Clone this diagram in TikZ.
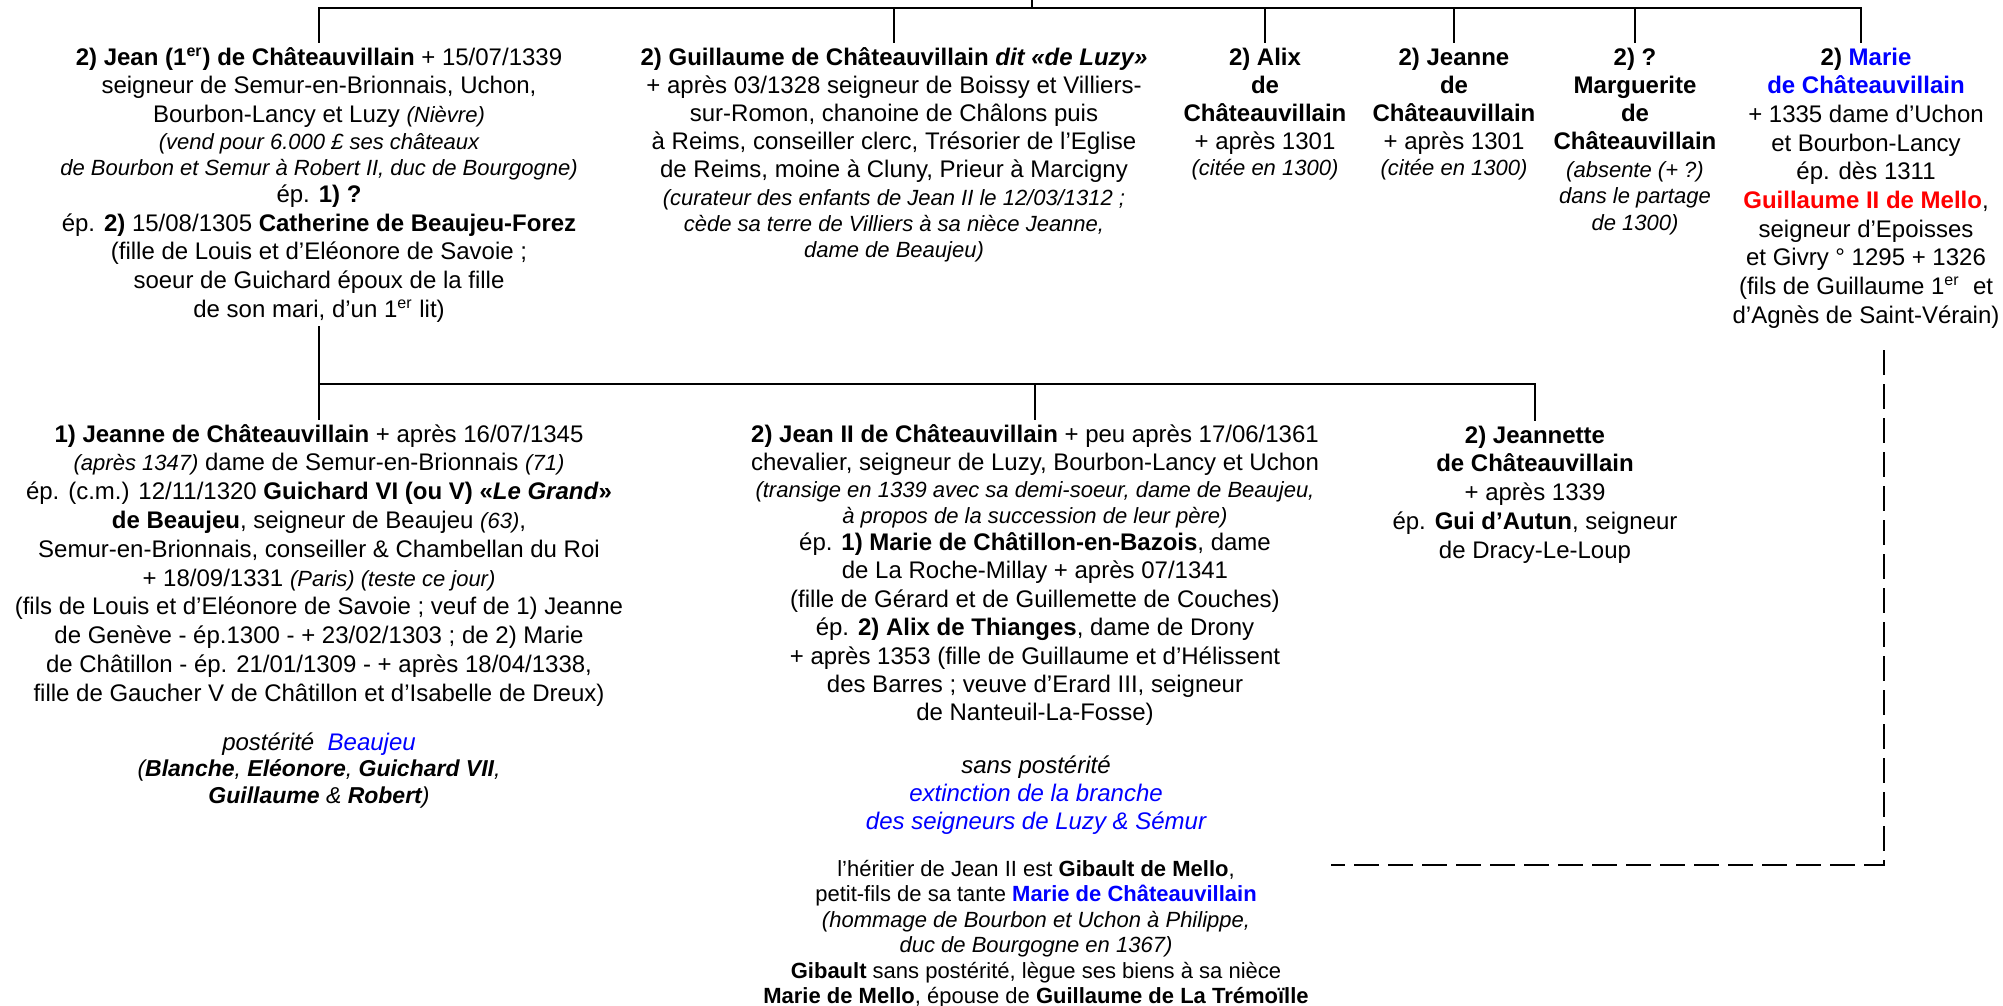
\documentclass[tikz,border=0pt]{standalone}
\usepackage{fontspec}
\setmainfont{Liberation Sans}
\usetikzlibrary{calc}
\definecolor{blu}{RGB}{0,0,255}
\definecolor{rd}{RGB}{255,0,0}
\newcommand\smit[1]{{\fontsize{11}{14}\selectfont\itshape #1}}
\newcommand\fst{\rule{0pt}{11pt}}
\tikzset{
  blk/.style={anchor=north, inner sep=0pt, outer sep=0pt, align=center,
    font=\fontsize{12}{14.2}\selectfont},
  conn/.style={line width=1.3pt},
  dconn/.style={line width=1.3pt, dash pattern=on 12.5pt off 4.5pt},
}
\begin{document}
\begin{tikzpicture}[x=0.5pt,y=-0.5pt]
\useasboundingbox (0,0) rectangle (2003,1006);

% generation 1
\node[blk, font=\fontsize{12}{14.4}\selectfont] (jean) at (319,43) {\fst\textbf{2) Jean (1\textsuperscript{er}) de Châteauvillain} + 15/07/1339\\
seigneur de Semur-en-Brionnais, Uchon,\\
Bourbon-Lancy et Luzy \smit{(Nièvre)}\\[-1pt]
\smit{(vend pour 6.000 £ ses châteaux}\\[-1.4pt]
\smit{de Bourbon et Semur à Robert II, duc de Bourgogne)}\\[-1pt]
ép. \textbf{1) ?}\\
ép. \textbf{2)} 15/08/1305 \textbf{Catherine de Beaujeu-Forez}\\
(fille de Louis et d’Eléonore de Savoie ;\\
soeur de Guichard époux de la fille\\
de son mari, d’un 1\textsuperscript{er} lit)};

\node[blk, font=\fontsize{12}{14}\selectfont] (guil) at (894,43) {\fst\textbf{2) Guillaume de Châteauvillain \textit{dit «de Luzy»}}\\
+ après 03/1328 seigneur de Boissy et Villiers-\\
sur-Romon, chanoine de Châlons puis\\
à Reims, conseiller clerc, Trésorier de l’Eglise\\
de Reims, moine à Cluny, Prieur à Marcigny\\
\smit{(curateur des enfants de Jean II le 12/03/1312 ;}\\[-1pt]
\smit{cède sa terre de Villiers à sa nièce Jeanne,}\\[-1pt]
\smit{dame de Beaujeu)}};

\node[blk, font=\fontsize{12}{14.1}\selectfont] (alix) at (1265,43) {\fst\textbf{2) Alix}\\\textbf{de}\\\textbf{Châteauvillain}\\+ après 1301\\[-1pt]\smit{(citée en 1300)}};

\node[blk, font=\fontsize{12}{14.1}\selectfont] (jeanne) at (1454,43) {\fst\textbf{2) Jeanne}\\\textbf{de}\\\textbf{Châteauvillain}\\+ après 1301\\[-1pt]\smit{(citée en 1300)}};

\node[blk, font=\fontsize{12}{14.1}\selectfont] (marg) at (1635,43) {\fst\textbf{2) ?}\\\textbf{Marguerite}\\\textbf{de}\\\textbf{Châteauvillain}\\[-0.3pt]\smit{(absente (+ ?)}\\[-0.8pt]\smit{dans le partage}\\[-0.8pt]\smit{de 1300)}};

\node[blk, font=\fontsize{12}{14.35}\selectfont] (marie) at (1866,43) {\fst\textbf{2) \textcolor{blu}{Marie}}\\\textbf{\textcolor{blu}{de Châteauvillain}}\\+ 1335 dame d’Uchon\\et Bourbon-Lancy\\ép. dès 1311\\\textbf{\textcolor{rd}{Guillaume II de Mello}},\\seigneur d’Epoisses\\et Givry ° 1295 + 1326\\(fils de Guillaume 1\textsuperscript{er}\ \ et\\d’Agnès de Saint-Vérain)};

% generation 2
\node[blk, font=\fontsize{12}{14.4}\selectfont] (jeanne1) at (319,420) {\fst\textbf{1) Jeanne de Châteauvillain} + après 16/07/1345\\
\smit{(après 1347)} dame de Semur-en-Brionnais \smit{(71)}\\
ép. (c.m.) 12/11/1320 \textbf{Guichard VI (ou V) «\textit{Le Grand}»}\\
\textbf{de Beaujeu}, seigneur de Beaujeu \smit{(63)},\\
Semur-en-Brionnais, conseiller \& Chambellan du Roi\\
+ 18/09/1331 \smit{(Paris) (teste ce jour)}\\
(fils de Louis et d’Eléonore de Savoie ; veuf de 1) Jeanne\\
de Genève - ép.1300 - + 23/02/1303 ; de 2) Marie\\
de Châtillon - ép. 21/01/1309 - + après 18/04/1338,\\
fille de Gaucher V de Châtillon et d’Isabelle de Dreux)};

\node[blk, font=\fontsize{12}{13.25}\selectfont] (post) at (319,728) {\fst\textit{postérité\ \ \textcolor{blu}{Beaujeu}}\\
{\fontsize{11.5}{13.25}\selectfont\itshape (\textbf{Blanche}, \textbf{Eléonore}, \textbf{Guichard VII},}\\
{\fontsize{11.5}{13.25}\selectfont\itshape \textbf{Guillaume} \& \textbf{Robert})}};

\node[blk, font=\fontsize{12}{14.2}\selectfont] (jean2) at (1035,420) {\fst\textbf{2) Jean II de Châteauvillain} + peu après 17/06/1361\\
chevalier, seigneur de Luzy, Bourbon-Lancy et Uchon\\[-0.6pt]
\smit{(transige en 1339 avec sa demi-soeur, dame de Beaujeu,}\\[-1.5pt]
\smit{à propos de la succession de leur père)}\\[-0.5pt]
ép. \textbf{1) Marie de Châtillon-en-Bazois}, dame\\
de La Roche-Millay + après 07/1341\\
(fille de Gérard et de Guillemette de Couches)\\
ép. \textbf{2) Alix de Thianges}, dame de Drony\\
+ après 1353 (fille de Guillaume et d’Hélissent\\
des Barres ; veuve d’Erard III, seigneur\\
de Nanteuil-La-Fosse)};

\node[blk, font=\fontsize{12}{14}\selectfont\itshape] (sanspost) at (1036,751) {\fst sans postérité\\\textcolor{blu}{extinction de la branche}\\\textcolor{blu}{des seigneurs de Luzy \& Sémur}};

\node[blk, font=\fontsize{11}{12.75}\selectfont] (herit) at (1036,854) {\fst l’héritier de Jean II est \textbf{Gibault de Mello},\\
petit-fils de sa tante \textbf{\textcolor{blu}{Marie de Châteauvillain}}\\
\textit{(hommage de Bourbon et Uchon à Philippe,}\\
\textit{duc de Bourgogne en 1367)}\\
\textbf{Gibault} sans postérité, lègue ses biens à sa nièce\\
\textbf{Marie de Mello}, épouse de \textbf{Guillaume de La Trémoïlle}};

\node[blk, font=\fontsize{12}{14.4}\selectfont] (jeannette) at (1535,421) {\fst\textbf{2) Jeannette}\\\textbf{de Châteauvillain}\\+ après 1339\\ép. \textbf{Gui d’Autun}, seigneur\\de Dracy-Le-Loup};

% connectors generation 1
\coordinate (par) at (1032,0);
\coordinate (hub) at (1032,8);
\coordinate (mtop) at ($(marie.north)+(-5,0)$);
\draw[conn] (par) -- (hub);
\draw[conn] (jean.north) -- (jean.north |- hub) -- (mtop |- hub) -- (mtop);
\foreach \n in {guil,alix,jeanne,marg}
  \draw[conn] (\n.north |- hub) -- (\n.north);

% connectors generation 2
\coordinate (hub2) at (319,384);
\draw[conn] ($(jean.south)+(0,4)$) -- (jeanne1.north);
\draw[conn] (hub2) -- (hub2 -| jeannette.north) -- (jeannette.north);
\draw[conn] (hub2 -| jean2.north) -- (jean2.north);

% dashed link Marie -> heritier
\draw[dconn] ($(marie.south)+(18,22)$) |- ($(herit.north east)+(22,11)$);
\end{tikzpicture}
\end{document}
